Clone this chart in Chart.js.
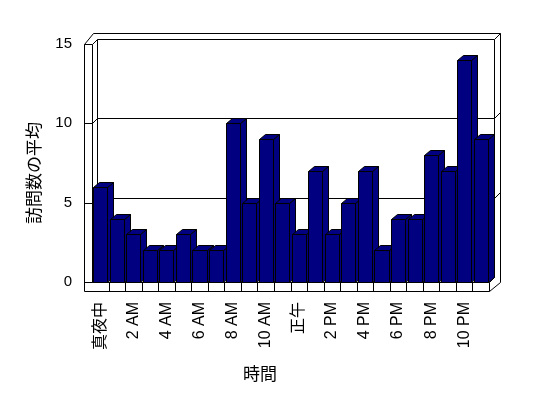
<!DOCTYPE html>
<html><head><meta charset="utf-8">
<script src="https://cdn.jsdelivr.net/npm/chart.js@4"></script>
<style>html,body{margin:0;padding:0;background:#fff}canvas{display:block}</style>
</head><body>
<canvas id="c" width="548" height="398"></canvas>
<script>
const hours = ['真夜中','1 AM','2 AM','3 AM','4 AM','5 AM','6 AM','7 AM','8 AM','9 AM','10 AM','11 AM','正午','1 PM','2 PM','3 PM','4 PM','5 PM','6 PM','7 PM','8 PM','9 PM','10 PM','11 PM'];
const visits = [6,4,3,2,2,3,2,2,10,5,9,5,3,7,3,5,7,2,4,4,8,7,14,9];
const yTicks = [0,5,10,15];
const xTitle = '時間';
const yTitle = '訪問数の平均';

const FONT = "'Liberation Sans','Noto Sans CJK JP',sans-serif";
const CJK = "'Noto Sans CJK JP','Liberation Sans',sans-serif";
const NAVY = '#000080';
const DX = 6, DY = 5;     // bar depth
const WX = 5, WY = 5;     // wall depth
const TH = 8;             // left wall thickness
const FH = 9;             // floor thickness
const OUT = 11;           // outer offset

function P(v){ return Math.round(v) + 0.5; }

const box3d = {
  id: 'box3d',
  beforeDatasetsDraw(chart) {
    const {ctx, chartArea: a, scales: {x, y}} = chart;
    const L = P(a.left), R = P(a.right);
    const T = P(y.getPixelForValue(yTicks[yTicks.length-1]));
    const B = P(y.getPixelForValue(yTicks[0]));
    const bl = L + WX, br = R + WX, bt = T - WY, bb = B - WY;
    const ol = L - TH, ot = T - OUT, or = R + OUT;
    ctx.save();
    ctx.strokeStyle = '#000';
    ctx.lineWidth = 1;
    const ln = (x1,y1,x2,y2) => { ctx.beginPath(); ctx.moveTo(x1,y1); ctx.lineTo(x2,y2); ctx.stroke(); };
    // back wall + outer frame
    ln(bl, bt, br, bt); ln(bl, bt, bl, bb); ln(br, bt, br, bb); ln(bl, bb, br, bb);
    ln(L+1, ot, or, ot); ln(or, ot, or, B);
    ln(ol, T, L+1, ot); ln(br, bt, or, ot);
    // left wall
    ln(ol, T, ol, B + FH); ln(L, T, L, B);
    // gridlines
    yTicks.forEach(v => {
      const yf = P(y.getPixelForValue(v)), yb = yf - WY;
      if (v !== yTicks[0] && v !== yTicks[yTicks.length-1]) {
        ln(bl, yb, br, yb);
        ln(br, yb, or, yb - (bt - ot));
      }
      ln(ol, yf, L, yf);
      ln(L, yf, bl, yb);
    });
    ln(R, B, br, bb);
    // floor front face
    ln(L, B, R, B); ln(ol, B + FH, R, B + FH); ln(R, B, R, B + FH);
    ln(R, B + FH, or, B);
    const n = x.ticks.length;
    for (let i = 1; i < n; i++) {
      const xb = P((x.getPixelForTick(i-1) + x.getPixelForTick(i)) / 2);
      ln(xb, B, xb, B + FH);
    }
    // bars in order: side/top then front
    const meta = chart.getDatasetMeta(0);
    meta.data.forEach(el => {
      const p = el.getProps(['x','y','base','width'], true);
      const l = P(p.x - p.width/2), r = P(p.x + p.width/2);
      const t = P(p.y), b = P(p.base);
      ctx.fillStyle = NAVY;
      // side
      ctx.beginPath();
      ctx.moveTo(r, t); ctx.lineTo(r + DX, t - DY); ctx.lineTo(r + DX, b - DY); ctx.lineTo(r, b); ctx.closePath();
      ctx.fill(); ctx.stroke();
      // top
      ctx.beginPath();
      ctx.moveTo(l, t); ctx.lineTo(r, t); ctx.lineTo(r + DX, t - DY); ctx.lineTo(l + DX, t - DY); ctx.closePath();
      ctx.fill(); ctx.stroke();
      // front
      ctx.beginPath();
      ctx.rect(l, t, r - l, b - t);
      ctx.fill(); ctx.stroke();
    });
    ctx.restore();
    return false;
  },
  afterDraw(chart) {
    const ctx = chart.ctx;
    ctx.save();
    ctx.fillStyle = '#000';
    ctx.font = "17px " + CJK;
    ctx.textAlign = 'center';
    ctx.textBaseline = 'middle';
    ctx.fillText(xTitle, 260, 374);
    ctx.translate(34, 173);
    ctx.rotate(-Math.PI/2);
    ctx.fillText(yTitle, 0, 0);
    ctx.restore();
  }
};

Chart.defaults.color = '#000';
new Chart(document.getElementById('c'), {
  type: 'bar',
  data: {
    labels: hours,
    datasets: [{ data: visits, backgroundColor: NAVY, borderColor: '#000', borderWidth: 1,
                 categoryPercentage: 1, barPercentage: 0.85 }]
  },
  options: {
    responsive: false,
    devicePixelRatio: 1,
    animation: false,
    layout: { padding: { top: 44, right: 59, left: 0, bottom: 0 } },
    plugins: { legend: { display: false }, tooltip: { enabled: false } },
    scales: {
      x: {
        grid: { display: false, drawTicks: false },
        border: { display: false },
        ticks: {
          autoSkip: false, maxRotation: 90, minRotation: 90, padding: 20,
          font: { family: FONT, size: 16 },
          callback: (v, i) => (i % 2 === 0 ? hours[i] : '')
        },
        afterFit: s => { s.height = 116; }
      },
      y: {
        min: yTicks[0], max: yTicks[yTicks.length-1],
        grid: { display: false, drawTicks: false },
        border: { display: false },
        ticks: { stepSize: 5, padding: 20, font: { family: FONT, size: 15 } },
        afterFit: s => { s.width = 92; }
      }
    }
  },
  plugins: [box3d]
});
</script>
</body></html>
